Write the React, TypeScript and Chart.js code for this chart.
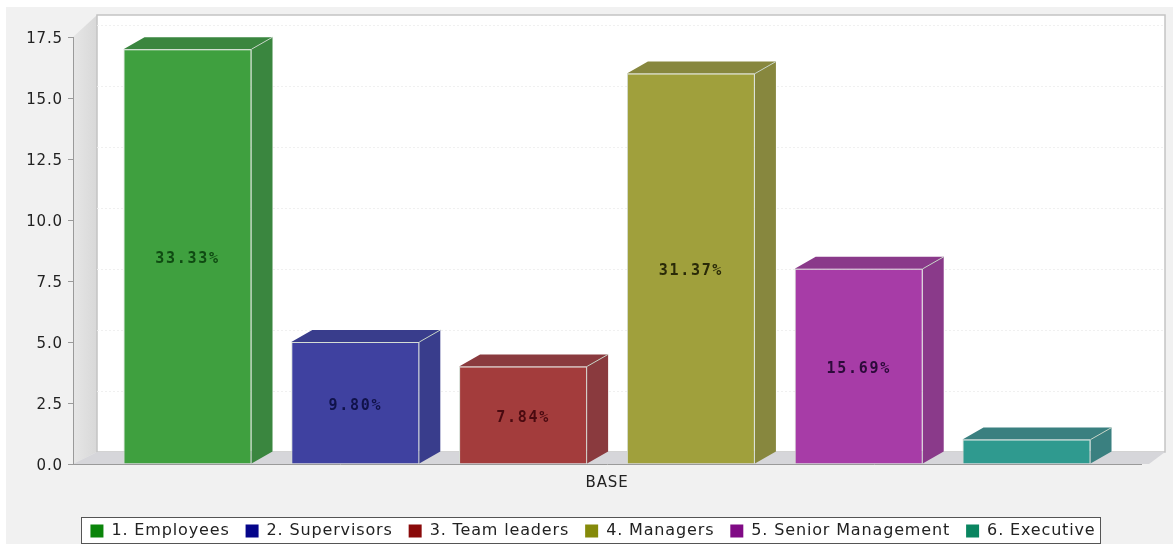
import React, { useEffect, useRef } from "react";
import { Chart, registerables } from "chart.js";

Chart.register(...registerables);

const categories = ["BASE"];
const seriesNames = ["1. Employees", "2. Supervisors", "3. Team leaders", "4. Managers", "5. Senior Management", "6. Executive"];
const seriesValues = [17, 5, 4, 16, 8, 1];
const percentLabels = ["33.33%", "9.80%", "7.84%", "31.37%", "15.69%", ""];
const frontColors = ["#3fa03f", "#3f41a0", "#a33c3c", "#a0a03c", "#a73ca7", "#2f9a8f"];
const sideColors = ["#3a863f", "#393d8c", "#8a3a3e", "#87873e", "#8a3a8a", "#3a8080"];
const legendColors = ["#0a850a", "#05058a", "#8a0a0a", "#858a0a", "#800a85", "#0a8560"];
const labelColors = ["#0f4a12", "#10124a", "#4a0a10", "#2a2a08", "#2c0a3a", "#000000"];
const yTicks = [0, 2.5, 5, 7.5, 10, 12.5, 15, 17.5];

const DX = 21;
const DY = 12;
const WX = 24;
const SPACING = "0.85px";

const scene = {
  id: "scene",
  beforeUpdate(chart: any) { chart.ctx.letterSpacing = SPACING; },
  afterLayout(chart: any) {
    chart.legend.left += 22.5;
    chart.legend.right += 22.5;
  },
  beforeDraw(chart: any) {
    const { ctx, chartArea: a, scales } = chart;
    ctx.letterSpacing = SPACING;
    ctx.save();
    ctx.fillStyle = "#ffffff";
    ctx.fillRect(0, 0, chart.width, chart.height);
    ctx.fillStyle = "#f1f1f1";
    ctx.fillRect(6, 7, chart.width - 6, chart.height - 7);
    // legend frame
    ctx.fillStyle = "#ffffff";
    ctx.fillRect(81.5, 517.5, 1019, 26);
    ctx.strokeStyle = "#555555";
    ctx.lineWidth = 1;
    ctx.strokeRect(81.5, 517.5, 1019, 26);
    // left wall
    const lw = ctx.createLinearGradient(a.left, 0, a.left + WX, 0);
    lw.addColorStop(0, "#e6e6e6");
    lw.addColorStop(1, "#d8d8d8");
    ctx.fillStyle = lw;
    ctx.beginPath();
    ctx.moveTo(a.left, a.top);
    ctx.lineTo(a.left + WX, 15);
    ctx.lineTo(a.left + WX, a.bottom - DY);
    ctx.lineTo(a.left, a.bottom);
    ctx.closePath();
    ctx.fill();
    // back wall
    ctx.fillStyle = "#ffffff";
    ctx.fillRect(a.left + WX, 15, a.right - a.left, a.bottom - DY - 15);
    ctx.strokeStyle = "#c4c4c4";
    ctx.lineWidth = 1.5;
    ctx.strokeRect(a.left + WX, 15, a.right - a.left, a.bottom - DY - 15);
    // grid on the wall
    ctx.strokeStyle = "#f0f0f0";
    ctx.lineWidth = 1;
    ctx.setLineDash([2, 2]);
    yTicks.slice(1).forEach((t) => {
      const y = Math.round(scales.y.getPixelForValue(t)) - DY + 0.5;
      ctx.beginPath();
      ctx.moveTo(a.left + WX, y);
      ctx.lineTo(a.right + WX, y);
      ctx.stroke();
    });
    ctx.setLineDash([]);
    // floor
    ctx.fillStyle = "#d6d6da";
    ctx.beginPath();
    ctx.moveTo(a.left, a.bottom);
    ctx.lineTo(a.left + WX, a.bottom - DY);
    ctx.lineTo(a.right + WX, a.bottom - DY);
    ctx.lineTo(a.right + 8, a.bottom);
    ctx.closePath();
    ctx.fill();
    ctx.restore();
  },
  beforeDatasetsDraw(chart: any) {
    const { ctx } = chart;
    ctx.save();
    chart.data.datasets.forEach((_: any, i: number) => {
      const bar = chart.getDatasetMeta(i).data[0];
      const l = bar.x - bar.width / 2;
      const r = bar.x + bar.width / 2;
      const t = bar.y;
      const b = bar.base;
      ctx.fillStyle = sideColors[i];
      ctx.beginPath();
      ctx.moveTo(l, t);
      ctx.lineTo(l + DX, t - DY);
      ctx.lineTo(r + DX, t - DY);
      ctx.lineTo(r + DX, b - DY);
      ctx.lineTo(r, b);
      ctx.lineTo(r, t);
      ctx.closePath();
      ctx.fill();
      ctx.strokeStyle = "#c9d6c9";
      ctx.lineWidth = 1;
      ctx.beginPath();
      ctx.moveTo(r, t);
      ctx.lineTo(r + DX, t - DY);
      ctx.stroke();
    });
    ctx.restore();
  },
  afterDatasetsDraw(chart: any) {
    const { ctx } = chart;
    ctx.save();
    ctx.letterSpacing = "1.7px";
    ctx.font = "bold 15px 'DejaVu Sans Mono'";
    ctx.textAlign = "center";
    ctx.textBaseline = "middle";
    chart.data.datasets.forEach((_: any, i: number) => {
      const bar = chart.getDatasetMeta(i).data[0];
      ctx.fillStyle = labelColors[i];
      ctx.fillText(percentLabels[i], bar.x, (bar.y + bar.base) / 2 + 3);
    });
    ctx.restore();
  },
};

export default function App() {
  const ref = useRef<HTMLCanvasElement | null>(null);
  useEffect(() => {
    const chart = new Chart(ref.current as HTMLCanvasElement, {
      type: "bar",
      data: {
        labels: categories,
        datasets: seriesNames.map((name, i) => ({
          label: name,
          data: [seriesValues[i]],
          backgroundColor: frontColors[i],
          borderColor: "#d5ddd5",
          borderWidth: 1,
          categoryPercentage: 0.9427,
          barPercentage: 0.763,
        })),
      },
      options: {
        responsive: false,
        animation: false,
        layout: { padding: { top: 37, right: 32, bottom: -5, left: 0 } },
        scales: {
          x: {
            grid: { display: false },
            border: { color: "#9a9a9a" },
            ticks: { color: "#222", padding: 2, font: { family: "'DejaVu Sans'", size: 15 } },
            afterFit: (s: any) => { s.height = 43; },
          },
          y: {
            min: 0,
            max: 17.5,
            afterBuildTicks: (s: any) => { s.ticks = yTicks.map((v) => ({ value: v })); },
            grid: { drawOnChartArea: false, tickLength: 5, color: "#9a9a9a" },
            border: { color: "#9a9a9a" },
            ticks: {
              color: "#222",
              padding: 5,
              labelOffset: 2,
              font: { family: "'DejaVu Sans'", size: 15 },
              callback: (v: any) => Number(v).toFixed(1),
            },
            afterFit: (s: any) => { s.width = 73; },
          },
        },
        plugins: {
          title: { display: false },
          tooltip: { enabled: false },
          legend: {
            position: "bottom",
            onClick: () => {},
            labels: {
              color: "#222",
              boxWidth: 13,
              boxHeight: 13,
              padding: 16,
              font: { family: "'DejaVu Sans'", size: 16 },
              generateLabels: () =>
                seriesNames.map((text, i) => ({
                  text,
                  fillStyle: legendColors[i],
                  strokeStyle: legendColors[i],
                  lineWidth: 0,
                  hidden: false,
                  datasetIndex: i,
                  fontColor: "#222",
                })),
            },
          },
        },
      },
      plugins: [scene],
    } as any);
    return () => chart.destroy();
  }, []);
  return (
    <div style={{ position: "fixed", left: 0, top: 0, width: 1173, height: 544 }}>
      <canvas ref={ref} width={1173} height={544} style={{ display: "block" }} />
    </div>
  );
}
